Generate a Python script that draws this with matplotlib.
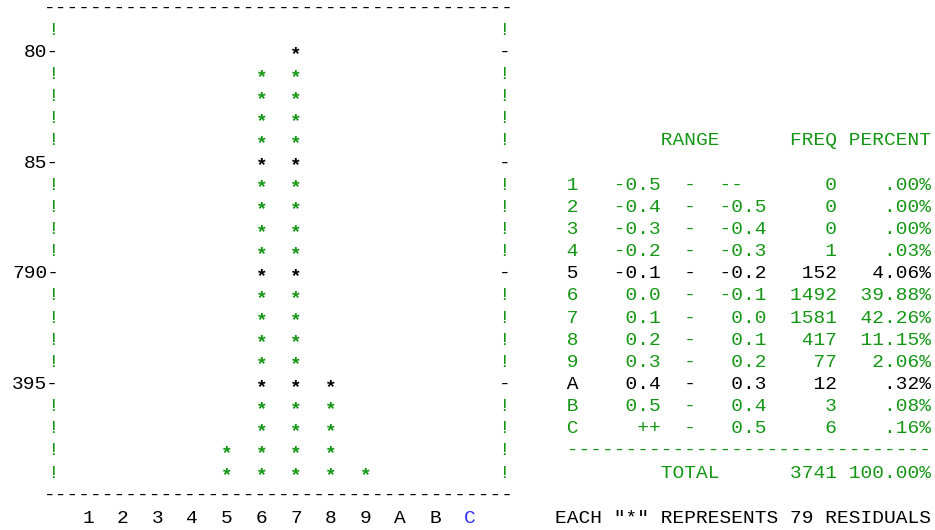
import numpy as np
import matplotlib
matplotlib.use("Agg")
import matplotlib.pyplot as plt

# residual histogram data
bin_labels = ["1", "2", "3", "4", "5", "6", "7", "8", "9", "A", "B", "C"]
range_lo = [-0.5, -0.4, -0.3, -0.2, -0.1, 0.0, 0.1, 0.2, 0.3, 0.4, 0.5, None]
range_hi = [None, -0.5, -0.4, -0.3, -0.2, -0.1, 0.0, 0.1, 0.2, 0.3, 0.4, 0.5]
freq = [0, 0, 0, 1, 152, 1492, 1581, 417, 77, 12, 3, 6]
percent = [0.00, 0.00, 0.00, 0.03, 4.06, 39.88, 42.26, 11.15, 2.06, 0.32, 0.08, 0.16]
per_star = 79
ytick_levels = [5, 10, 15, 20]
ytick_labels = ["395-", "790-", "85-", "80-"]

GREEN = "#149614"
BLUE = "#2d2dff"
FONT = "Liberation Mono"
FS = 14

fig = plt.figure(figsize=(9.35, 5.3), dpi=100)
ax = fig.add_axes([0, 0, 1, 1])
ax.set_xlim(-1.536, 25.41)
ax.set_ylim(-1.567, 22.36)
ax.axis("off")


def put(x, y, s, color="black", ha="center", **kw):
    ax.text(x, y, s, color=color, ha=ha, va="center", family=FONT, fontsize=FS, **kw)


nbins = len(bin_labels)
top = 22

# frame
put((nbins + 1) / 2, top, "-" * 40)
put((nbins + 1) / 2, 0, "-" * 40)
for lev in range(1, top):
    if lev in ytick_levels:
        put(nbins + 1, lev, "-")
    else:
        put(0, lev, "!", GREEN)
        put(nbins + 1, lev, "!", GREEN)
for lev, lab in zip(ytick_levels, ytick_labels):
    put(1 / 6, lev, lab, ha="right")

# stars
for i, f in enumerate(freq):
    n = int(round(f / per_star))
    for lev in range(1, n + 1):
        put(i + 1, lev - 0.12, "*", "black" if lev % 5 == 0 else GREEN, fontweight="bold")

for i, lab in enumerate(bin_labels):
    put(i + 1, -1.05, lab, BLUE if i == nbins - 1 else "black")


# table
def fmt(v, empty):
    return empty if v is None else f"{v:.1f}"


def fmt_pct(p):
    s = f"{p:.2f}"
    if s.startswith("0."):
        s = s[1:]
    return s + "%"


tx = 14.46
put(tx, 16, "         RANGE      FREQ PERCENT", GREEN, ha="left")
for i in range(nbins):
    line = " {}   {:>4}  -  {:<4}  {:>4} {:>7}".format(
        bin_labels[i], fmt(range_lo[i], "++"), fmt(range_hi[i], "--").rjust(4) if range_hi[i] is not None else "--",
        freq[i], fmt_pct(percent[i]))
    put(tx, 14 - i, line, "black" if (i + 1) % 5 == 0 else GREEN, ha="left")
put(tx, 2, " " + "-" * 31, GREEN, ha="left")
put(tx, 1, "         TOTAL      {:>4} {:>7}".format(sum(freq), "100.00%"), GREEN, ha="left")
put(tx, -1.05, 'EACH "*" REPRESENTS {} RESIDUALS'.format(per_star), ha="left")

fig.savefig("out.png", dpi=100)
